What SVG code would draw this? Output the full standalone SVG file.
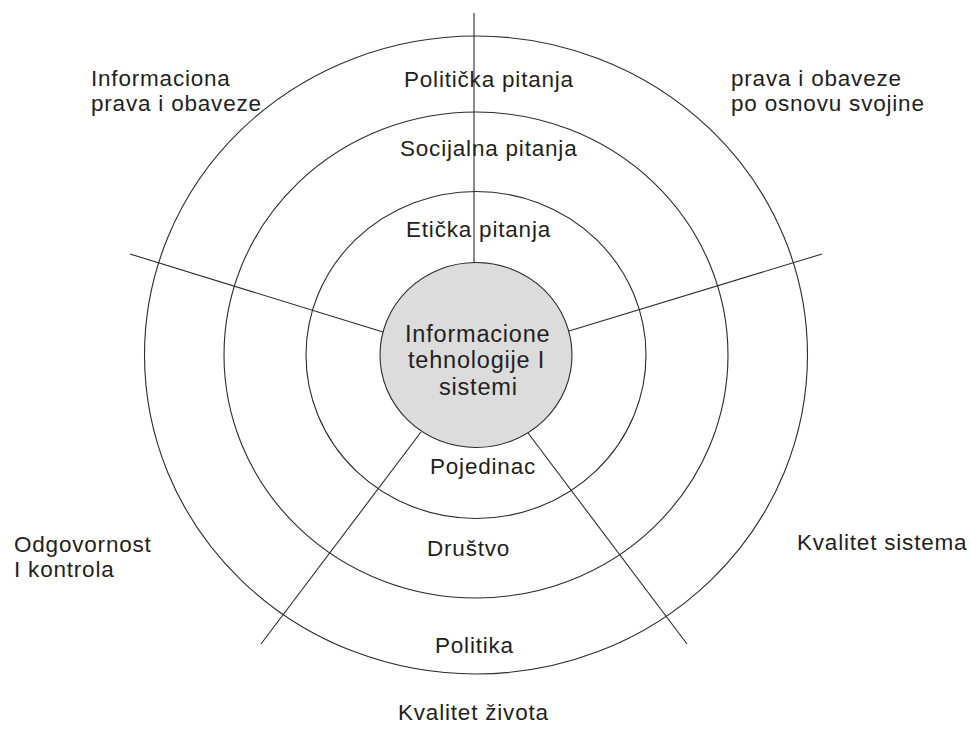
<svg xmlns="http://www.w3.org/2000/svg" width="971" height="743" viewBox="0 0 971 743">
  <style>
    .ring { fill: none; stroke: #2b2b2b; stroke-width: 1.1; }
    .core { fill: #dcdcdc; stroke: #2b2b2b; stroke-width: 1.1; }
    .spoke { stroke: #2b2b2b; stroke-width: 1.1; fill: none; }
    text { font-family: "Liberation Sans", Arial, sans-serif; font-size: 22.5px; fill: #231f20; letter-spacing: 0.8px; }
    .big { font-size: 23.5px; }
  </style>
  <rect width="971" height="743" fill="#ffffff"/>

  <!-- concentric rings -->
  <g id="ring-politics">
    <ellipse class="ring" cx="476" cy="355" rx="331.5" ry="319"/>
    <text x="404" y="87">Politička pitanja</text>
    <text x="435" y="653">Politika</text>
  </g>
  <g id="ring-society">
    <ellipse class="ring" cx="476" cy="355" rx="252" ry="243"/>
    <text x="400" y="156">Socijalna pitanja</text>
    <text x="427" y="556">Društvo</text>
  </g>
  <g id="ring-individual">
    <ellipse class="ring" cx="476" cy="355" rx="170" ry="163.5"/>
    <text x="406" y="237">Etička pitanja</text>
    <text x="430" y="474">Pojedinac</text>
  </g>

  <!-- spokes dividing the five dimensions -->
  <g id="connectors">
    <line class="spoke" x1="474" y1="13" x2="474" y2="262.5"/>
    <line class="spoke" x1="130" y1="254" x2="383" y2="332"/>
    <line class="spoke" x1="822" y1="254" x2="569" y2="331"/>
    <line class="spoke" x1="261" y1="644" x2="421" y2="432"/>
    <line class="spoke" x1="687" y1="644" x2="528" y2="433"/>
  </g>

  <g id="core">
    <ellipse class="core" cx="476" cy="355" rx="96" ry="92.5"/>
    <text class="big" x="405" y="342">Informacione</text>
    <text class="big" x="408" y="368">tehnologije I</text>
    <text class="big" x="439" y="395">sistemi</text>
  </g>

  <!-- the five moral dimensions -->
  <g id="dim-information-rights">
    <text x="91" y="86">Informaciona</text>
    <text x="91" y="111">prava i obaveze</text>
  </g>
  <g id="dim-property-rights">
    <text x="731" y="86">prava i obaveze</text>
    <text x="731" y="111">po osnovu svojine</text>
  </g>
  <g id="dim-accountability">
    <text x="14" y="552">Odgovornost</text>
    <text x="14" y="577">I kontrola</text>
  </g>
  <g id="dim-system-quality">
    <text x="797" y="550">Kvalitet sistema</text>
  </g>
  <g id="dim-quality-of-life">
    <text x="398" y="720">Kvalitet života</text>
  </g>
</svg>
